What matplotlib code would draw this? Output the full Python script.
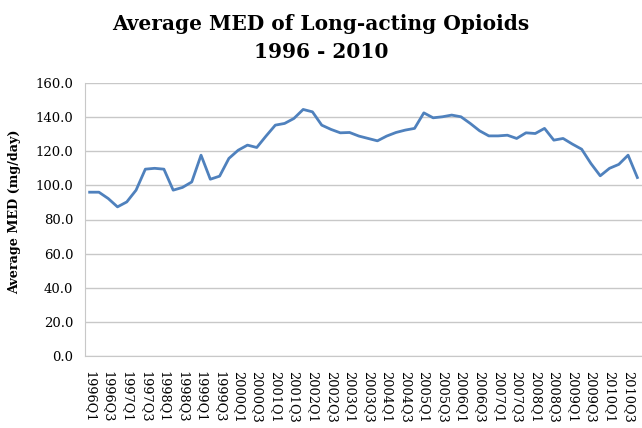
import matplotlib
matplotlib.use('Agg')
import matplotlib.pyplot as plt

# quarterly average MED, 1996Q1 .. 2010Q4
years = list(range(1996, 2011))
quarters = ['{}Q{}'.format(y, q) for y in years for q in (1, 2, 3, 4)]
med = [96.0, 96.0, 92.3, 87.4, 90.3, 97.2, 109.5, 110.0, 109.5, 97.2,
       98.8, 102.0, 117.7, 103.6, 105.4, 115.8, 120.6, 123.6, 122.2, 128.9,
       135.3, 136.3, 139.2, 144.5, 143.1, 135.3, 132.8, 130.8, 131.0, 128.9,
       127.5, 126.1, 128.9, 131.0, 132.4, 133.4, 142.5, 139.6, 140.2, 141.2,
       140.2, 136.3, 132.0, 129.0, 129.0, 129.4, 127.5, 130.8, 130.4, 133.4,
       126.5, 127.5, 124.2, 121.2, 112.8, 105.6, 110.0, 112.3, 117.7, 104.6]
yticks = [0, 20, 40, 60, 80, 100, 120, 140, 160]

serif = ['DejaVu Serif']

fig = plt.figure(figsize=(6.42, 4.28), dpi=100)
ax = fig.add_axes([85 / 642, 72 / 428, 557 / 642, 273 / 428])

x = list(range(len(med)))
ax.plot(x, med, color='#4f81bd', linewidth=2.0)

ax.set_xlim(-0.5, len(med) - 0.5)
ax.set_ylim(0, 160)
ax.set_yticks(yticks)
ax.set_yticklabels(['{:.1f}'.format(v) for v in yticks],
                   family=serif, fontsize=9.5)
ax.set_xticks(x[::2])
ax.set_xticklabels(quarters[::2], rotation=270, family=serif, fontsize=9.3)
ax.tick_params(axis='y', length=0, pad=8.5)
ax.tick_params(axis='x', length=0, pad=11)

ax.grid(axis='y', color='#c8c8c8', linewidth=1.0)
ax.set_axisbelow(True)
for side in ('top', 'right'):
    ax.spines[side].set_visible(False)
ax.spines['left'].set_color('#c8c8c8')
ax.spines['bottom'].set_color('#c8c8c8')

ax.set_ylabel('Average MED (mg/day)', family=serif, fontsize=9.2,
              fontweight='bold')
ax.yaxis.set_label_coords(-0.115, 0.53)

fig.text(0.5, 0.968, 'Average MED of Long-acting Opioids\n1996 - 2010',
         ha='center', va='top', family=serif, fontsize=14.5,
         fontweight='bold', linespacing=1.5)

fig.savefig('out.png', dpi=100)
